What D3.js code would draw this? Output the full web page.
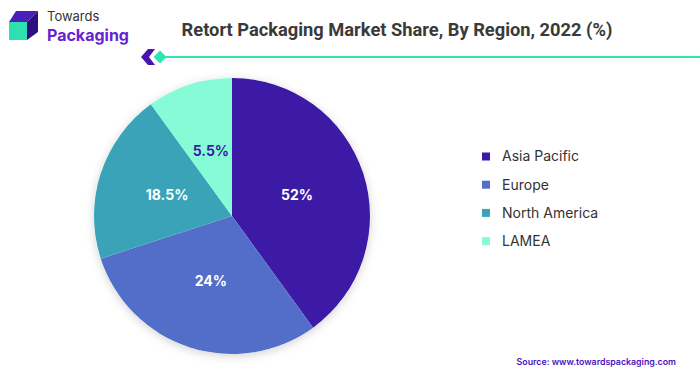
<!DOCTYPE html>
<html><head><meta charset="utf-8">
<script src="https://cdn.jsdelivr.net/npm/d3@7"></script>
<style>body{margin:0;background:#fff;}svg{display:block;font-family:Inter,"Open Sans",sans-serif;}</style>
</head><body>
<svg id="c" width="700" height="375"></svg>
<script>
const regions = ["Asia Pacific", "Europe", "North America", "LAMEA"];
// slice sizes as drawn in the picture
const sliceValues = [40, 30, 20, 10];
// labels printed on the slices
const sliceLabels = ["52%", "24%", "18.5%", "5.5%"];
const colors = ["#3d1aa6", "#526ec9", "#3aa3b8", "#85fcd6"];
const labelColors = ["#ffffff", "#ffffff", "#ffffff", "#3d1aa6"];

const svg = d3.select("#c");
const defs = svg.append("defs");
const f = defs.append("filter").attr("id","sh").attr("x","-20%").attr("y","-20%").attr("width","140%").attr("height","140%");
f.append("feDropShadow").attr("dx",0).attr("dy",2).attr("stdDeviation",5).attr("flood-color","#000").attr("flood-opacity",0.18);
const lf = defs.append("filter").attr("id","lsh").attr("x","-10%").attr("y","-200%").attr("width","120%").attr("height","500%");
lf.append("feDropShadow").attr("dx",0).attr("dy",4).attr("stdDeviation",4).attr("flood-color","#000").attr("flood-opacity",0.12);

// logo
const logo = svg.append("g");
logo.append("polygon").attr("points","9,22 16,11 38,11 27,22").attr("fill","#4a1fb8");
logo.append("polygon").attr("points","27,22 38,11 38,32 27,40").attr("fill","#2d0f80");
logo.append("rect").attr("x",9).attr("y",22).attr("width",18).attr("height",18).attr("fill","#2ee0b0");
logo.append("text").attr("x",47).attr("y",21).attr("font-size",13).attr("fill","#333").attr("font-family","Inter, sans-serif").text("Towards");
logo.append("text").attr("x",47).attr("y",41).attr("font-size",16).attr("font-weight",700).attr("fill","#6a1fd1").attr("font-family","Inter, sans-serif").text("Packaging");

// title
svg.append("text").attr("x",397).attr("y",36).attr("text-anchor","middle").attr("font-size",18.3).attr("font-weight",700)
  .attr("fill","#3a3a3a").attr("font-family","Roboto, sans-serif").text("Retort Packaging Market Share, By Region, 2022 (%)");

// header line with chevron
svg.append("rect").attr("x",165).attr("y",56).attr("width",535).attr("height",2).attr("fill","#2ee6b0").attr("filter","url(#lsh)");
svg.append("polygon").attr("points","148,49 155,49 149,57 155,65 148,65 141,57").attr("fill","#4a12b0");
svg.append("polygon").attr("points","160,50.5 166.5,57 160,63.5 153.5,57").attr("fill","#2ee6b0");

// pie
const cx = 232, cy = 216, R = 138;
const pie = d3.pie().sort(null).value(d => d);
const arcs = pie(sliceValues);
const arc = d3.arc().innerRadius(0).outerRadius(R);
const labelArc = d3.arc().innerRadius(0).outerRadius(R * 0.99);
const g = svg.append("g").attr("transform",`translate(${cx},${cy})`);
g.append("circle").attr("r",R).attr("fill","#fff").attr("filter","url(#sh)");
g.selectAll("path").data(arcs).join("path").attr("d",arc).attr("fill",(d,i)=>colors[i]);
g.selectAll("text").data(arcs).join("text")
  .attr("transform",d=>`translate(${labelArc.centroid(d)})`)
  .attr("text-anchor","middle").attr("dy","0.35em")
  .attr("font-size",14).attr("font-weight",700).attr("font-family","Inter, sans-serif")
  .attr("fill",(d,i)=>labelColors[i]).text((d,i)=>sliceLabels[i]);

// legend
const lg = svg.append("g");
regions.forEach((r,i)=>{
  const y = 156.5 + i*28.2;
  lg.append("rect").attr("x",482).attr("y",y-4).attr("width",8).attr("height",8).attr("fill",colors[i]);
  lg.append("text").attr("x",502).attr("y",y).attr("dy","0.35em").attr("font-size",14).attr("fill","#333")
    .attr("font-family","Inter, sans-serif").text(r);
});

// source
svg.append("text").attr("x",676).attr("y",364.5).attr("text-anchor","end").attr("font-size",8.8).attr("font-weight",600)
  .attr("fill","#4a12c0").attr("font-family","Inter, sans-serif").text("Source: www.towardspackaging.com");
</script>
</body></html>
